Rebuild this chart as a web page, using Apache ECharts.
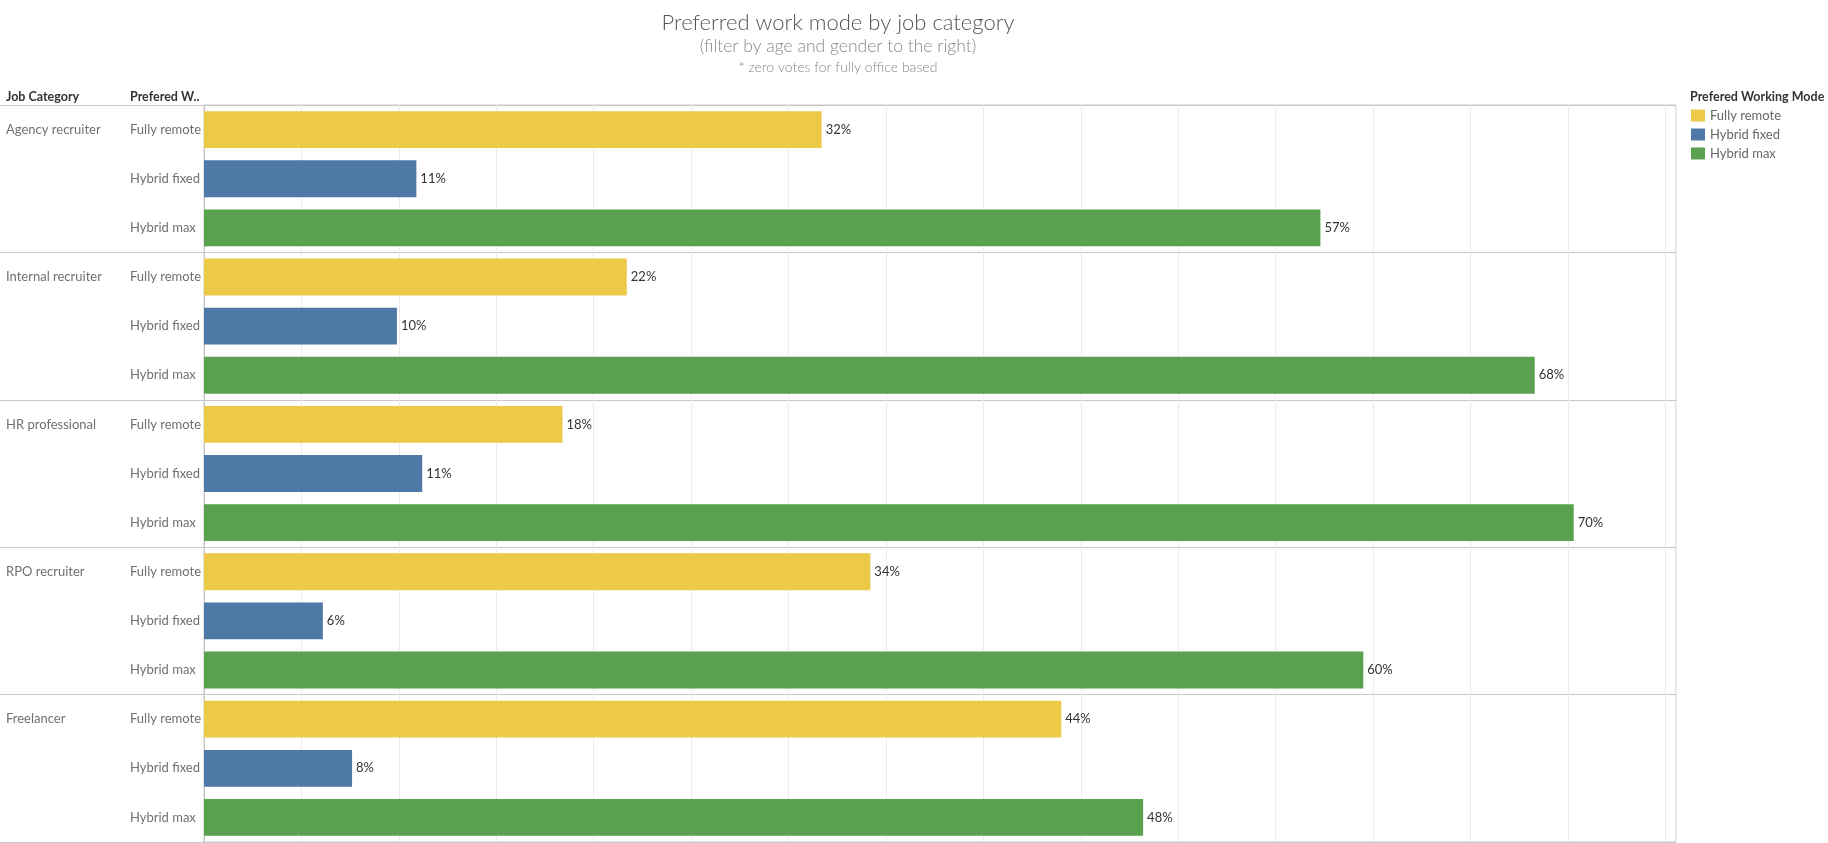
<!DOCTYPE html>
<html>
<head>
<meta charset="utf-8">
<script src="https://cdn.jsdelivr.net/npm/echarts@6/dist/echarts.min.js"></script>
<style>
html,body{margin:0;padding:0;background:#fff;}
#chart{width:1828px;height:843px;}
</style>
</head>
<body>
<div id="chart"></div>
<script>
const jobCategories = ['Agency recruiter', 'Internal recruiter', 'HR professional', 'RPO recruiter', 'Freelancer'];
const modes = ['Fully remote', 'Hybrid fixed', 'Hybrid max'];
const fullyRemote = [31.7, 21.7, 18.4, 34.2, 44.0];
const hybridFixed = [10.9, 9.9, 11.2, 6.1, 7.6];
const hybridMax = [57.3, 68.3, 70.3, 59.5, 48.2];
const modeColors = ['#EDC948', '#4E79A7', '#59A14F'];

const seriesValues = [fullyRemote, hybridFixed, hybridMax];
const rowKeys = [];
jobCategories.forEach(j => modes.forEach(m => rowKeys.push(j + '|' + m)));

const FONT = 'Lato';
const chart = echarts.init(document.getElementById('chart'));

const series = modes.map((m, mi) => {
  const data = rowKeys.map((k, ri) => (ri % 3 === mi ? seriesValues[mi][Math.floor(ri / 3)] : null));
  return {
    name: m,
    type: 'bar',
    xAxisIndex: 1,
    yAxisIndex: 1,
    stack: 'all',
    data: data,
    barCategoryGap: '25%',
    itemStyle: { color: modeColors[mi] },
    label: {
      show: true,
      position: 'right',
      distance: 4,
      color: '#333',
      fontFamily: FONT,
      fontSize: 13,
      padding: [2, 0, 0, 0],
      formatter: p => (p.value == null ? '' : Math.round(p.value) + '%')
    },
    emphasis: { disabled: true }
  };
});

chart.setOption({
  animation: false,
  textStyle: { fontFamily: FONT },
  title: [
    { text: 'Preferred work mode by job category', left: 838, top: 12, padding: 0, textAlign: 'center',
      textStyle: { fontFamily: FONT, fontSize: 22, fontWeight: 300, color: '#555' } },
    { text: '(filter by age and gender to the right)', left: 838, top: 37, padding: 0, textAlign: 'center',
      textStyle: { fontFamily: FONT, fontSize: 17.5, fontWeight: 300, color: '#888' } },
    { text: '* zero votes for fully office based', left: 838, top: 60, padding: 0, textAlign: 'center',
      textStyle: { fontFamily: FONT, fontSize: 14, fontWeight: 300, color: '#888' } },
    { text: 'Job Category', left: 6, top: 90, padding: 0,
      textStyle: { fontFamily: FONT, fontSize: 12.5, fontWeight: 'bold', color: '#333' } },
    { text: 'Prefered W..', left: 130, top: 90, padding: 0,
      textStyle: { fontFamily: FONT, fontSize: 12.5, fontWeight: 'bold', color: '#333' } },
    { text: 'Prefered Working Mode', left: 1690, top: 90, padding: 0,
      textStyle: { fontFamily: FONT, fontSize: 12.5, fontWeight: 'bold', color: '#333' } }
  ],
  legend: {
    orient: 'vertical',
    left: 1691,
    top: 109,
    padding: 0,
    itemWidth: 14,
    itemHeight: 12,
    itemGap: 6,
    icon: 'rect',
    selectedMode: false,
    data: modes,
    textStyle: { fontFamily: FONT, fontSize: 13, color: '#666' }
  },
  grid: [
    { left: 0, right: 152, top: 105, height: 737 },
    { left: 204, right: 152, top: 105, height: 737, show: true, borderColor: '#c8c8c8', borderWidth: 1, backgroundColor: 'transparent' }
  ],
  xAxis: [
    { type: 'value', gridIndex: 0, min: 0, max: 1, show: false, splitLine: { show: false } },
    { type: 'value', gridIndex: 1, min: 0, max: 75.55, interval: 5,
      axisLabel: { show: false }, axisLine: { show: false }, axisTick: { show: false },
      splitLine: { show: true, lineStyle: { color: '#ececec', width: 1 } } }
  ],
  yAxis: [
    { type: 'category', gridIndex: 0, data: jobCategories, inverse: true,
      axisLine: { show: false }, axisTick: { show: false }, axisLabel: { show: false },
      splitLine: { show: true, interval: 0, lineStyle: { color: '#c8c8c8', width: 1 } } },
    { type: 'category', gridIndex: 1, position: 'left', data: rowKeys, inverse: true,
      axisLine: { show: true, lineStyle: { color: '#c8c8c8' } }, axisTick: { show: false },
      splitLine: { show: false },
      axisLabel: { show: true, interval: 0, align: 'left', margin: 74, color: '#707070', fontSize: 13, fontFamily: FONT,
        padding: [3, 0, 0, 0], formatter: v => v.split('|')[1] } },
    { type: 'category', gridIndex: 1, position: 'left', data: rowKeys, inverse: true,
      axisLine: { show: false }, axisTick: { show: false }, splitLine: { show: false },
      axisLabel: { show: true, interval: 0, align: 'left', margin: 198, color: '#707070', fontSize: 13, fontFamily: FONT,
        padding: [1, 0, 0, 0], formatter: (v, i) => (i % 3 === 0 ? v.split('|')[0] : '') } }
  ],
  series: series
});
</script>
</body>
</html>
